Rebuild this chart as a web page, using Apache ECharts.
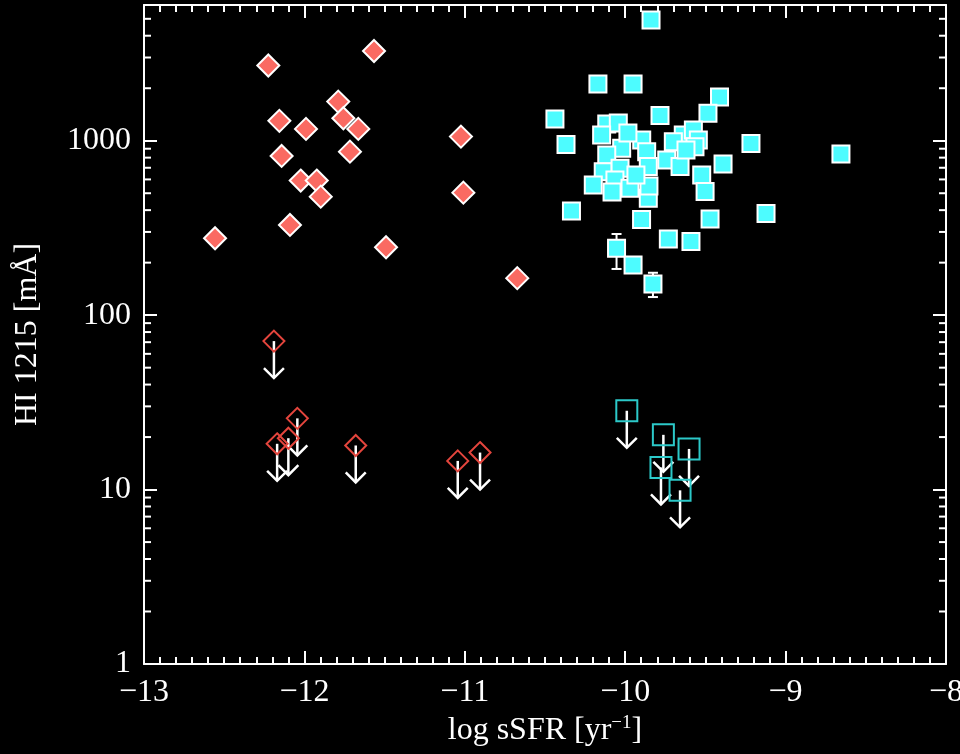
<!DOCTYPE html>
<html>
<head>
<meta charset="utf-8">
<script src="https://cdn.jsdelivr.net/npm/echarts@6/dist/echarts.min.js"></script>
<style>
html,body{margin:0;padding:0;background:#000;}
#chart{width:960px;height:754px;}
</style>
</head>
<body>
<div id="chart"></div>
<script>
// ---- axis ranges / tick labels ----
const xAxisMin = -13, xAxisMax = -8;
const xTickLabels = [-13, -12, -11, -10, -9, -8];
const yAxisMin = 1, yAxisMax = 6000;
const yTickLabels = [1, 10, 100, 1000];
const yMinorTicks = [2,3,4,5,6,7,8,9,20,30,40,50,60,70,80,90,200,300,400,500,600,700,800,900,2000,3000,4000,5000];

// ---- red filled diamonds (detections, passive) ----
const redX = [-12.225,-11.566,-11.789,-11.757,-11.664,-12.156,-11.990,-12.142,-11.716,-11.024,-11.009,-12.023,-11.923,-11.898,-12.090,-12.557,-11.491,-10.673];
const redY = [2700,3270,1676,1346,1169,1300,1169,818,866,1056,504,591,591,478,329,276,245,163];

// ---- red open diamonds (upper limits) ----
const redLimX = [-12.19,-12.044,-12.10,-12.17,-11.68,-11.044,-10.905];
const redLimY = [71,25.6,19.7,18.3,17.9,14.6,16.3];

// ---- cyan filled squares (detections, star forming) ----
const cyanX = [-9.839,-10.170,-9.951,-9.412,-10.438,-9.783,-9.484,-10.369,-9.216,-8.655,-9.390,-10.335,-9.122,-9.471,-9.898,-9.731,-9.590,-10.054,-9.951,-9.827,
  -10.115,-10.043,-10.147,-10.022,-10.115,-9.897,-9.866,-9.856,-10.137,-10.199,-10.032,-10.064,-9.970,-9.856,-9.852,-9.638,-9.575,-9.544,-9.700,-9.565,-9.741,-9.658,-9.523,-9.502,
  -9.983,-9.933,-9.621,-10.082];
const cyanY = [4930,2117,2117,1783,1334,1397,1435,952,965,840,736,396,383,356,354,273,264,242,194,151,
  1248,1265,1080,906,829,1011,866,711,665,558,696,596,534,468,551,1080,1153,1011,988,925,776,711,637,511,
  1109,637,886,509];

// ---- cyan error bars: x, low, high ----
const cyanErrX = [-10.054, -9.827];
const cyanErrLo = [184, 127];
const cyanErrHi = [292, 175];

// ---- cyan open squares (upper limits) ----
const cyanLimX = [-9.99,-9.762,-9.602,-9.777,-9.658];
const cyanLimY = [28.3,20.6,17.1,13.4,9.9];

const zip = (a, b) => a.map((v, i) => [v, b[i]]);
const FONT = '"Liberation Serif", "DejaVu Serif", serif';
const isPow10 = v => Math.abs(Math.log10(v) - Math.round(Math.log10(v))) < 1e-6;

const chart = echarts.init(document.getElementById('chart'), null, {renderer: 'canvas'});

const axisLineStyle = {color: '#fff', width: 2};
const xCommon = {
  type: 'value', min: xAxisMin, max: xAxisMax, interval: 1,
  axisLine: {show: true, onZero: false, lineStyle: axisLineStyle},
  axisTick: {show: true, inside: true, length: 13, lineStyle: {color: '#fff', width: 2}},
  minorTick: {show: true, splitNumber: 10, length: 7, lineStyle: {color: '#fff', width: 2}},
  splitLine: {show: false}
};
const yCommon = {
  type: 'log', logBase: 10, min: yAxisMin, max: yAxisMax,
  axisLine: {show: true, onZero: false, lineStyle: axisLineStyle},
  axisTick: {show: true, inside: true, length: 13, lineStyle: {color: '#fff', width: 2}},
  splitLine: {show: false}
};

function arrowRender(params, api) {
  const p = api.coord([api.value(0), api.value(1)]);
  const L = 37, w = 10;
  const st = {stroke: '#fff', lineWidth: 2.5, fill: null};
  return {type: 'group', children: [
    {type: 'line', shape: {x1: p[0], y1: p[1], x2: p[0], y2: p[1] + L}, style: st},
    {type: 'polyline', shape: {points: [[p[0] - w, p[1] + L - w], [p[0], p[1] + L], [p[0] + w, p[1] + L - w]]}, style: st}
  ]};
}

const option = {
  backgroundColor: '#000',
  animation: false,
  grid: {left: 144, right: 14, top: 5, bottom: 90, containLabel: false, outerBoundsMode: 'none'},
  xAxis: [
    Object.assign({}, xCommon, {
      position: 'bottom',
      name: 'log sSFR [yr{sup|−1}]',
      nameLocation: 'middle', nameGap: 50,
      nameTextStyle: {color: '#fff', fontFamily: FONT, fontSize: 32,
        rich: {sup: {color: '#fff', fontFamily: FONT, fontSize: 19, verticalAlign: 'top', padding: [0, 0, 14, 0]}}},
      axisLabel: {show: true, color: '#fff', fontFamily: FONT, fontSize: 32, margin: 13,
        formatter: v => xTickLabels.includes(Math.round(v)) ? String(Math.round(v)).replace('-', '−') : ''}
    }),
    Object.assign({}, xCommon, {position: 'top', axisLabel: {show: false}})
  ],
  yAxis: [
    Object.assign({}, yCommon, {
      position: 'left',
      name: 'HI 1215 [mÅ]',
      nameLocation: 'middle', nameGap: 100, nameRotate: 90,
      nameTextStyle: {color: '#fff', fontFamily: FONT, fontSize: 32},
      axisLabel: {show: true, color: '#fff', fontFamily: FONT, fontSize: 32, margin: 13,
        formatter: v => (isPow10(v) && yTickLabels.includes(Math.round(v))) ? String(Math.round(v)) : ''}
    }),
    Object.assign({}, yCommon, {position: 'right', axisLabel: {show: false}})
  ],
  series: [
    { // y minor ticks (log positions 2..9)
      type: 'custom', xAxisIndex: 0, yAxisIndex: 0, silent: true, clip: false,
      data: yMinorTicks.map(v => [xAxisMin, v]),
      renderItem: (params, api) => {
        const v = api.value(1);
        const pL = api.coord([xAxisMin, v]);
        const pR = api.coord([xAxisMax, v]);
        const st = {stroke: '#fff', lineWidth: 2};
        return {type: 'group', children: [
          {type: 'line', shape: {x1: pL[0], y1: pL[1], x2: pL[0] + 7, y2: pL[1]}, style: st},
          {type: 'line', shape: {x1: pR[0], y1: pR[1], x2: pR[0] - 7, y2: pR[1]}, style: st}
        ]};
      }
    },
    { // error bars
      type: 'custom', silent: true,
      data: cyanErrX.map((x, i) => [x, cyanErrLo[i], cyanErrHi[i]]),
      renderItem: (params, api) => {
        const a = api.coord([api.value(0), api.value(1)]);
        const b = api.coord([api.value(0), api.value(2)]);
        const st = {stroke: '#fff', lineWidth: 2};
        return {type: 'group', children: [
          {type: 'line', shape: {x1: a[0], y1: a[1], x2: b[0], y2: b[1]}, style: st},
          {type: 'line', shape: {x1: a[0] - 5, y1: a[1], x2: a[0] + 5, y2: a[1]}, style: st},
          {type: 'line', shape: {x1: b[0] - 5, y1: b[1], x2: b[0] + 5, y2: b[1]}, style: st}
        ]};
      }
    },
    {
      type: 'scatter', data: zip(redX, redY), symbol: 'diamond', symbolSize: 22,
      itemStyle: {color: '#fa6a62', borderColor: '#fff', borderWidth: 2, opacity: 1},
      emphasis: {disabled: true}
    },
    {
      type: 'scatter', data: zip(cyanX, cyanY), symbol: 'rect', symbolSize: 17,
      itemStyle: {color: '#4dfcff', borderColor: '#fff', borderWidth: 2, opacity: 1},
      emphasis: {disabled: true}
    },
    {
      type: 'scatter', data: zip(redLimX, redLimY), symbol: 'diamond', symbolSize: 21,
      itemStyle: {color: 'rgba(0,0,0,0)', borderColor: '#e4453d', borderWidth: 2, opacity: 1},
      emphasis: {disabled: true}
    },
    {
      type: 'scatter', data: zip(cyanLimX, cyanLimY), symbol: 'rect', symbolSize: 21,
      itemStyle: {color: 'rgba(0,0,0,0)', borderColor: '#2cc9c9', borderWidth: 2, opacity: 1},
      emphasis: {disabled: true}
    },
    {
      type: 'custom', silent: true, data: zip(redLimX, redLimY).concat(zip(cyanLimX, cyanLimY)),
      renderItem: arrowRender
    }
  ]
};
chart.setOption(option);
</script>
</body>
</html>
